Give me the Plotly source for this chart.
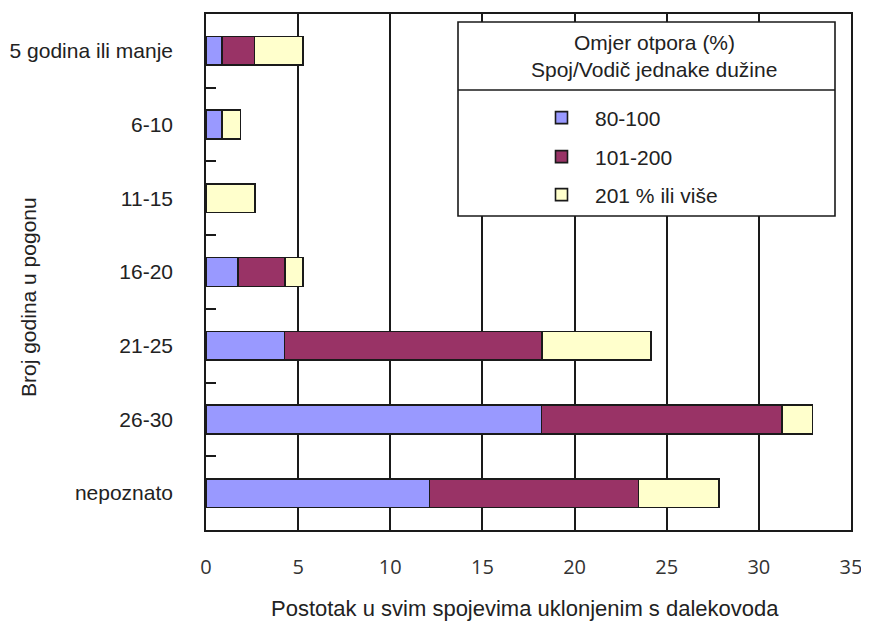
import plotly.graph_objects as go

categories = ["5 godina ili manje", "6-10", "11-15", "16-20", "21-25", "26-30", "nepoznato"]
s_80_100 = [0.86, 0.86, 0.0, 1.73, 4.26, 18.2, 12.13]
s_101_200 = [1.77, 0.0, 0.0, 2.56, 13.98, 13.07, 11.33]
s_201_plus = [2.63, 1.01, 2.65, 0.98, 5.91, 1.63, 4.39]
series_names = ["80-100", "101-200", "201 % ili više"]
x_ticks = [0, 5, 10, 15, 20, 25, 30, 35]

colors = ["#9999FF", "#993366", "#FFFFCC"]
FONT = "Liberation Sans, Arial, sans-serif"

fig = go.Figure()
legends = ["legend", "legend2", "legend3"]
for name, vals, col, lg in zip(series_names, [s_80_100, s_101_200, s_201_plus], colors, legends):
    fig.add_trace(go.Bar(
        y=categories, x=vals, name=name, orientation="h",
        marker=dict(color=col, line=dict(color="#1a1a1a", width=1.6)),
        legend=lg,
    ))

# page body has an 8px default margin -> work in window pixels, shift by OFF
OFF = 8
W, H = 869 - OFF, 630 - OFF
plot_l, plot_r, plot_t, plot_b = 206, 851, 14, 530  # window pixels
L, R, T, B = plot_l - OFF, W - (plot_r - OFF), plot_t - OFF, H - (plot_b - OFF)
pw, ph = W - L - R, H - T - B

def px(xp):
    return (xp - plot_l) / pw

def py(yp):
    return (plot_b - yp) / ph

leg_common = dict(
    font=dict(family=FONT, size=21, color="#222"),
    bgcolor="rgba(0,0,0,0)", borderwidth=0,
    xanchor="left", yanchor="middle", itemwidth=57,
)
legend_x = px(528)
fig.update_layout(
    legend=dict(x=legend_x, y=py(118), **leg_common),
    legend2=dict(x=legend_x, y=py(157), **leg_common),
    legend3=dict(x=legend_x, y=py(195), **leg_common),
)

fig.update_layout(
    width=W, height=H,
    margin=dict(l=L, r=R, t=T, b=B, autoexpand=False),
    paper_bgcolor="white", plot_bgcolor="white",
    barmode="stack", bargap=0.61,
    showlegend=True,
    font=dict(family=FONT, size=21, color="#222"),
    xaxis=dict(
        range=[0, 35], tickvals=x_ticks, ticktext=[str(v) for v in x_ticks],
        showgrid=True, gridcolor="#1a1a1a", gridwidth=1.6,
        showline=True, linecolor="#1a1a1a", linewidth=1.6, mirror=True,
        ticks="", zeroline=False, automargin=False,
        tickfont=dict(family="Open Sans, DejaVu Sans, sans-serif", size=20, color="#333"),
        ticklabelstandoff=18,
    ),
    yaxis=dict(
        autorange="reversed", type="category", automargin=False,
        showgrid=False, showline=True, linecolor="#1a1a1a", linewidth=1.6, mirror=True,
        ticks="inside", tickson="boundaries", ticklen=10, tickcolor="#1a1a1a", tickwidth=1.6,
        tickfont=dict(family=FONT, size=21, color="#222"),
        ticklabelstandoff=27,
    ),
)

# legend frame, divider and title
fig.add_shape(type="rect", xref="paper", yref="paper",
              x0=px(458), x1=px(835), y0=py(216), y1=py(22),
              fillcolor="white", line=dict(color="#1a1a1a", width=1.6), layer="above")
fig.add_shape(type="line", xref="paper", yref="paper",
              x0=px(458), x1=px(835), y0=py(90), y1=py(90),
              line=dict(color="#1a1a1a", width=1.6), layer="above")
fig.add_annotation(xref="paper", yref="paper", x=px(654), y=py(43),
                   text="Omjer otpora (%)", showarrow=False,
                   font=dict(family=FONT, size=21, color="#222"),
                   xanchor="center", yanchor="middle")
fig.add_annotation(xref="paper", yref="paper", x=px(654), y=py(70),
                   text="Spoj/Vodič jednake dužine", showarrow=False,
                   font=dict(family=FONT, size=21, color="#222"),
                   xanchor="center", yanchor="middle")

# axis titles
fig.add_annotation(xref="paper", yref="paper", x=px(525), y=py(608),
                   text="Postotak u svim spojevima uklonjenim s dalekovoda", showarrow=False,
                   font=dict(family=FONT, size=22, color="#222"),
                   xanchor="center", yanchor="middle")
fig.add_annotation(xref="paper", yref="paper", x=px(28), y=py(297),
                   text="Broj godina u pogonu", showarrow=False, textangle=-90,
                   font=dict(family=FONT, size=21, color="#222"),
                   xanchor="center", yanchor="middle")

fig.write_html("out.html")
